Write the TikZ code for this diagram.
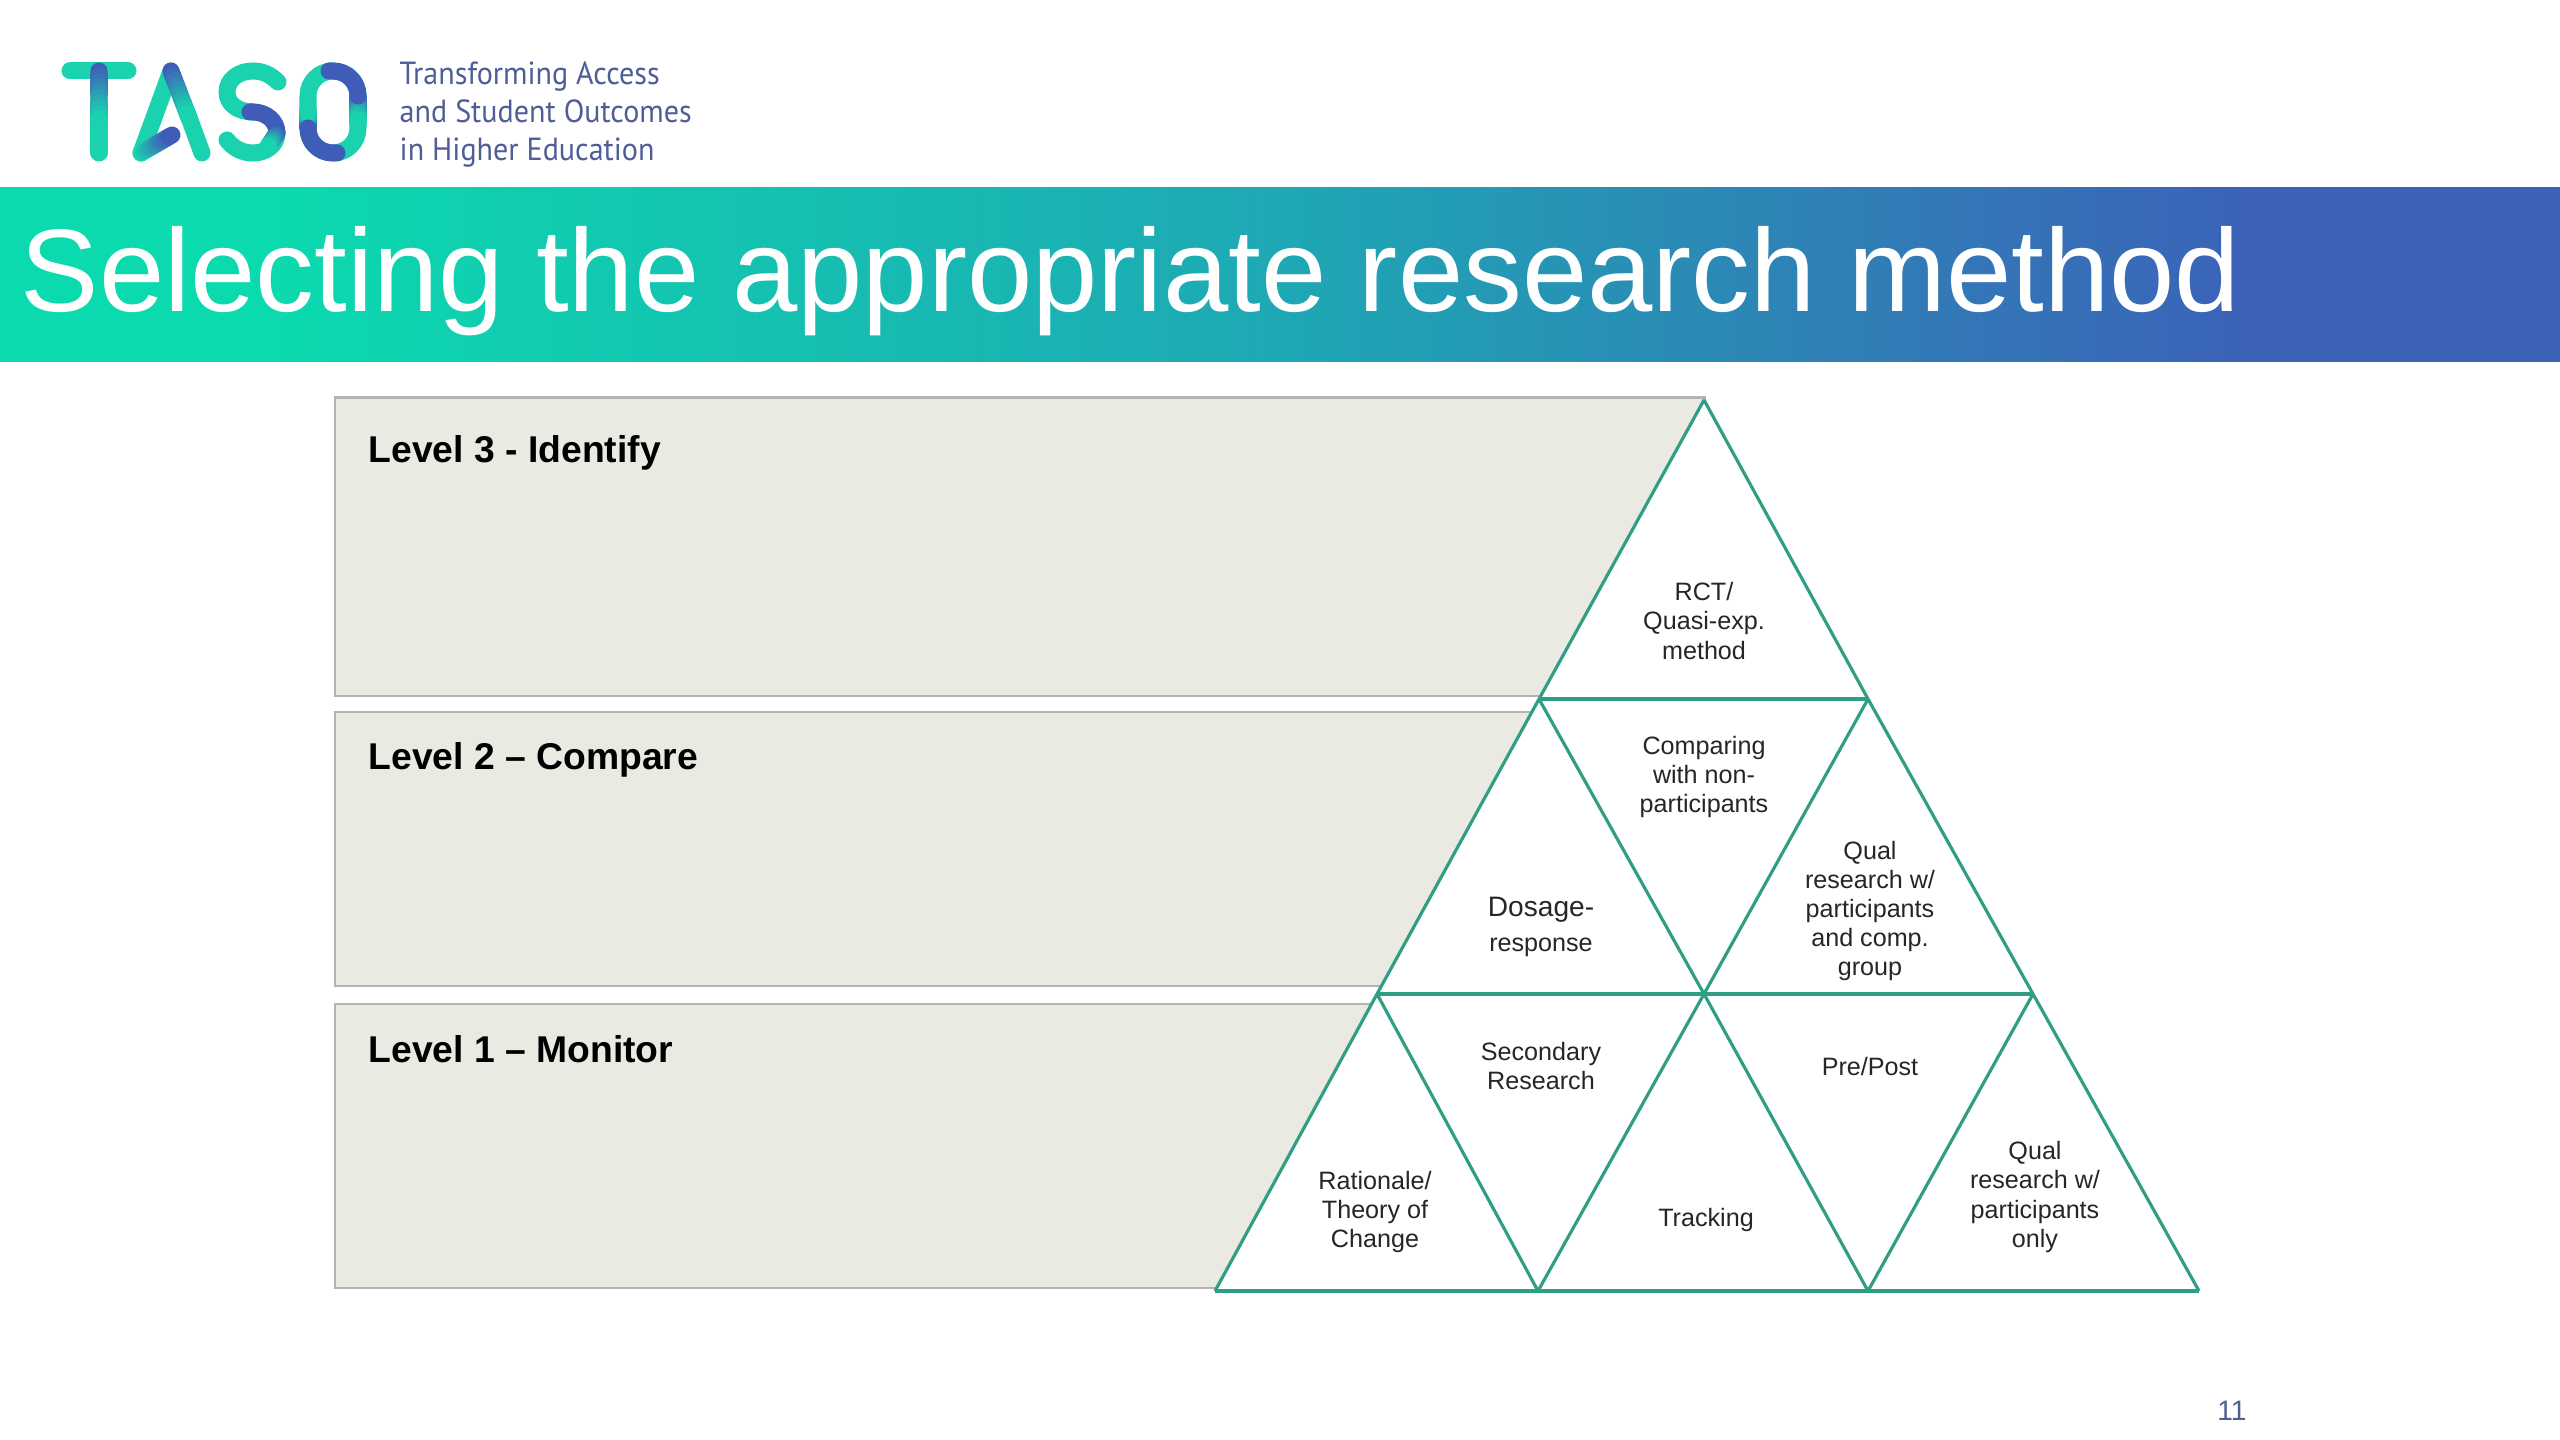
\documentclass[tikz,border=0pt]{standalone}
\usepackage{fontspec}
\setmainfont{Liberation Sans}
\newfontfamily\logofont[FakeStretch=0.94]{PT Sans}
\usetikzlibrary{calc}

\definecolor{bandteal}{HTML}{0BDAAE}
\definecolor{bandmid}{HTML}{1EA8B4}
\definecolor{bandblue}{HTML}{3C62B8}
\definecolor{logoteal}{HTML}{1AD3AE}
\definecolor{logoblue}{HTML}{3F5DB8}
\definecolor{logotext}{HTML}{4F5E96}
\definecolor{boxfill}{HTML}{EAEAE2}
\definecolor{boxline}{HTML}{B4B4AE}
\definecolor{pyramid}{HTML}{2F9E85}

\pgfdeclarehorizontalshading{bandshade}{100bp}{
	color(0bp)=(bandteal);
	color(30bp)=(bandteal);
	color(50bp)=(bandmid);
	color(69bp)=(bandblue);
	color(100bp)=(bandblue)
}

\tikzset{
	levelbox/.style = {draw = boxline, fill = boxfill, line width = 0.85pt},
	leveltext/.style = {anchor = base west, inner sep = 0pt, font = \fontsize{10.6}{12}\selectfont\bfseries},
	edge/.style = {draw = pyramid, line width = 0.9pt, line join = round},
	baseedge/.style = {draw = pyramid, line width = 1.25pt},
	cell/.style = {align = center, inner sep = 0pt, font = \fontsize{7.15}{8.3}\selectfont, text = black!85},
	logostroke/.style = {line width = 0.17cm, line cap = round, line join = round},
	logoline/.style = {anchor = base west, inner sep = 0pt, font = \fontsize{9.1}{11}\logofont, text = logotext}
}

\newcommand{\logoseg}[4]{
	\foreach \s in {0,...,9}{
		\pgfmathsetmacro{\mixval}{\s*100/9}
		\pgfmathsetmacro{\nexts}{(\s+1)/10}
		\pgfmathsetmacro{\thiss}{\s/10}
		\draw[logostroke, draw = {#4!\mixval!#3}] ($#1!\thiss!#2$) -- ($#1!\nexts!#2$);
	}
}

\begin{document}
\begin{tikzpicture}[x = 0.01cm, y = -0.01cm]
	\useasboundingbox (0,0) rectangle (2560,1440);
	\fill[white] (0,0) rectangle (2560,1440);

	\shade[shading = bandshade] (0,188) rectangle (2560,362);
	\node[anchor = base west, inner sep = 0pt, text = white, font = \fontsize{33.4}{40}\selectfont] (title) at (20,312) {Selecting the appropriate research method};

	\draw[logostroke, logoteal] (70,71) -- (128,71);
	\draw[logostroke, logoteal] (99,110) -- (99,153);
	\logoseg{(99,71)}{(99,125)}{logoblue}{logoteal}
	\draw[logostroke, logoteal] (171,71) -- (141,153);
	\draw[logostroke, logoteal] (187,112) -- (202,153);
	\logoseg{(141,153)}{(172,135)}{logoteal}{logoblue}
	\logoseg{(171,71)}{(189,118)}{logoblue}{logoteal}
	\draw[logostroke, logoteal] (278,82) .. controls (271,75) and (263,71) .. (253,71) .. controls (238,71) and (227,80) .. (227,92) .. controls (227,104) and (238,112) .. (253,112);
	\draw[logostroke, logoteal] (277,133) .. controls (277,145) and (266,153) .. (253,153) .. controls (242,153) and (233,148) .. (227,140);
	\draw[logostroke, logoblue] (250,112) -- (253,112) .. controls (266,112) and (277,121) .. (277,133);
	\logoseg{(277,133)}{(267,148)}{logoblue}{logoteal}
	\draw[logostroke, logoteal] (308,96) .. controls (308,82) and (319,71) .. (333,71) .. controls (347,71) and (358,82) .. (358,96) -- (358,128) .. controls (358,142) and (347,153) .. (333,153) .. controls (319,153) and (308,142) .. (308,128) -- cycle;
	\logoseg{(358,96)}{(358,123)}{logoblue}{logoteal}
	\draw[logostroke, logoblue] (329,71) -- (333,71) .. controls (347,71) and (358,82) .. (358,96);
	\logoseg{(308,128)}{(308,110)}{logoblue}{logoteal}
	\draw[logostroke, logoblue] (337,153) -- (333,153) .. controls (319,153) and (308,142) .. (308,128);

	\node[logoline] (logoa) at (399,85) {Transforming Access};
	\node[logoline] (logob) at (399,123) {and Student Outcomes};
	\node[logoline] (logoc) at (399,161) {in Higher Education};

	\path[levelbox] (335,398) rectangle (1704,696);
	\path[levelbox] (335,712) rectangle (1600,986);
	\path[levelbox] (335,1004) rectangle (1400,1288);

	\node[leveltext] (levelthree) at (368,463) {Level 3 - Identify};
	\node[leveltext] (leveltwo) at (368,770) {Level 2 – Compare};
	\node[leveltext] (levelone) at (368,1062) {Level 1 – Monitor};

	\coordinate (A) at (1704,400);
	\coordinate (B0) at (1539,699);
	\coordinate (B1) at (1868,699);
	\coordinate (C0) at (1377,994);
	\coordinate (C1) at (1704,994);
	\coordinate (C2) at (2033,994);
	\coordinate (D0) at (1215,1291);
	\coordinate (D1) at (1538,1291);
	\coordinate (D2) at (1868,1291);
	\coordinate (D3) at (2199,1291);

	\fill[white] (A) -- (D3) -- (D0) -- cycle;
	\path[edge]
		(A) -- (B0) -- (C0) -- (D0)
		(A) -- (B1) -- (C2) -- (D3)
		(B0) -- (C1) -- (D2)
		(B1) -- (C1) -- (D1)
		(C0) -- (D1)
		(C2) -- (D2);
	\path[baseedge]
		(B0) -- (B1)
		(C0) -- (C2)
		(D0) -- (D3);

	\node[cell] (rct) at (1704,621) {RCT/\\Quasi-exp.\\method};
	\node[cell] (comparing) at (1704,777) {Comparing\\with non-\\participants};
	\node[cell] (dosage) at (1541,927) {{\fontsize{8}{9.5}\selectfont Dosage-}\\[1.5pt]response};
	\node[cell] (qualcomp) at (1870,911) {Qual\\research w/\\participants\\and comp.\\group};
	\node[cell] (secondary) at (1541,1066) {Secondary\\Research};
	\node[cell] (prepost) at (1870,1067) {Pre/Post};
	\node[cell] (rationale) at (1375,1212) {Rationale/\\Theory of\\Change};
	\node[cell] (tracking) at (1706,1220) {Tracking};
	\node[cell] (qualonly) at (2035,1197) {Qual\\research w/\\participants\\only};

	\node[inner sep = 0pt, text = logotext, font = \fontsize{8}{9}\selectfont] (pagenum) at (2232,1411) {11};
\end{tikzpicture}
\end{document}
